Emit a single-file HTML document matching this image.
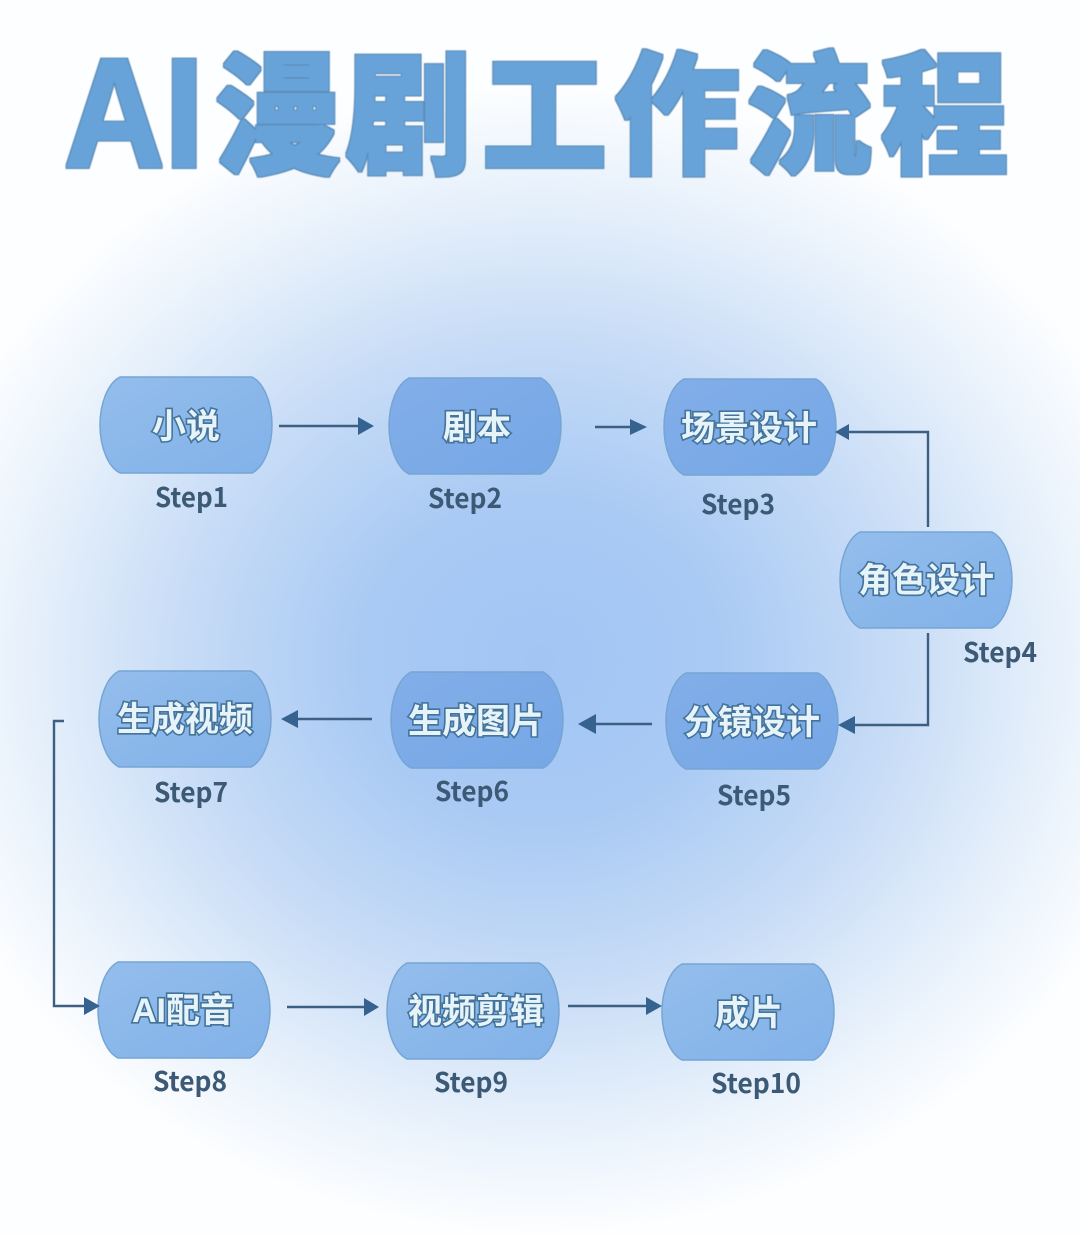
<!DOCTYPE html>
<html lang="zh"><head><meta charset="utf-8"><title>AI漫剧工作流程</title>
<style>
html,body{margin:0;padding:0;background:#fff}
svg{display:block}
.t{font-family:"Liberation Sans","Noto Sans CJK SC",sans-serif;font-weight:900;font-size:130px;fill:#67a3d8}
.a{font-family:"Liberation Sans",sans-serif;font-weight:700}
.n{font-family:"Liberation Sans","Noto Sans CJK SC",sans-serif;font-weight:700;font-size:34px;fill:#e6f4fa;stroke:#44739b;stroke-width:3.2px;paint-order:stroke;text-anchor:middle}
.s{font-family:"Noto Sans CJK SC","Liberation Sans",sans-serif;font-weight:700;font-size:27px;fill:#3c5a75}
.l{fill:none;stroke:#3d5f82;stroke-width:2.4}
.h{fill:#36628f}
.b{stroke:#76a5d3;stroke-width:1.5}
</style></head><body>
<svg width="1080" height="1234" viewBox="0 0 1080 1234" xmlns="http://www.w3.org/2000/svg">
<defs>
<radialGradient id="bg" gradientUnits="userSpaceOnUse" cx="540" cy="660" r="640" gradientTransform="translate(540 660) scale(1 .9) translate(-540 -660)">
<stop offset="0" stop-color="#a2c5f4"/><stop offset=".28" stop-color="#a9caf4"/><stop offset=".55" stop-color="#c6dbf6"/><stop offset=".8" stop-color="#e6f0fb"/><stop offset="1" stop-color="#fdfeff"/>
</radialGradient>
<linearGradient id="n1" x1="0" y1="0" x2="1" y2="1"><stop offset="0" stop-color="#93bdeb"/><stop offset="1" stop-color="#82b2ea"/></linearGradient>
<linearGradient id="n2" x1="0" y1="0" x2="1" y2="1"><stop offset="0" stop-color="#82aee8"/><stop offset="1" stop-color="#76a7e6"/></linearGradient>
<path id="p" d="M20 0H152C164 6 172 26 172 48C172 70 164 90 152 96H20C8 90 0 70 0 48C0 26 8 6 20 0Z"/>
<filter id="thick" filterUnits="userSpaceOnUse" x="0" y="0" width="1080" height="220" color-interpolation-filters="sRGB">
<feMorphology in="SourceAlpha" operator="dilate" radius="1.8" result="o"/>
<feFlood flood-color="#5888b4"/><feComposite in2="o" operator="in" result="edge"/>
<feMorphology in="SourceAlpha" operator="dilate" radius="0.8" result="i"/>
<feFlood flood-color="#67a3d8"/><feComposite in2="i" operator="in" result="fill"/>
<feMerge result="m"><feMergeNode in="edge"/><feMergeNode in="fill"/></feMerge>
<feGaussianBlur in="m" stdDeviation="0.4"/>
</filter>
</defs>
<rect width="1080" height="1234" fill="#fff"/>
<rect width="1080" height="1234" fill="url(#bg)"/>

<!-- title -->
<g class="t" filter="url(#thick)">
<text class="a" transform="translate(64 167) scale(1.07 1.2)" style="font-size:130px">A</text>
<text class="a" transform="translate(164 167) scale(1.12 1.2)" style="font-size:130px">I</text>
<text transform="translate(216 163) scale(.96 1.02)">漫</text>
<text transform="translate(346 163) scale(.96 1.02)">剧</text>
<text transform="translate(482 163) scale(.96 1.02)">工</text>
<text transform="translate(615 163) scale(.96 1.02)">作</text>
<text transform="translate(747 163) scale(.96 1.02)">流</text>
<text transform="translate(881 163) scale(.98 1.02)">程</text>
</g>

<!-- nodes -->
<use href="#p" x="100" y="377" fill="url(#n1)" class="b"/>
<use href="#p" x="389" y="378" fill="url(#n2)" class="b"/>
<use href="#p" x="664" y="379" fill="url(#n2)" class="b"/>
<use href="#p" x="840" y="532" fill="url(#n1)" class="b"/>
<use href="#p" x="666" y="673" fill="url(#n2)" class="b"/>
<use href="#p" x="391" y="672" fill="url(#n2)" class="b"/>
<use href="#p" x="99" y="671" fill="url(#n1)" class="b"/>
<use href="#p" x="98" y="962" fill="url(#n1)" class="b"/>
<use href="#p" x="387" y="963" fill="url(#n1)" class="b"/>
<use href="#p" x="662" y="964" fill="url(#n1)" class="b"/>

<text class="n" x="186" y="438">小说</text>
<text class="n" x="477" y="439">剧本</text>
<text class="n" x="749" y="440">场景设计</text>
<text class="n" x="926" y="592">角色设计</text>
<text class="n" x="752" y="734">分镜设计</text>
<text class="n" x="476" y="733">生成图片</text>
<text class="n" x="185" y="731">生成视频</text>
<text class="n" x="183" y="1022">AI配音</text>
<text class="n" x="476" y="1023">视频剪辑</text>
<text class="n" x="749" y="1025">成片</text>

<!-- step labels -->
<text class="s" x="155" y="507" textLength="73" lengthAdjust="spacingAndGlyphs">Step1</text>
<text class="s" x="428" y="508" textLength="74" lengthAdjust="spacingAndGlyphs">Step2</text>
<text class="s" x="701" y="514" textLength="74" lengthAdjust="spacingAndGlyphs">Step3</text>
<text class="s" x="963" y="662" textLength="74" lengthAdjust="spacingAndGlyphs">Step4</text>
<text class="s" x="717" y="805" textLength="74" lengthAdjust="spacingAndGlyphs">Step5</text>
<text class="s" x="435" y="801" textLength="74" lengthAdjust="spacingAndGlyphs">Step6</text>
<text class="s" x="154" y="802" textLength="74" lengthAdjust="spacingAndGlyphs">Step7</text>
<text class="s" x="153" y="1091" textLength="74" lengthAdjust="spacingAndGlyphs">Step8</text>
<text class="s" x="434" y="1092" textLength="74" lengthAdjust="spacingAndGlyphs">Step9</text>
<text class="s" x="711" y="1093" textLength="90" lengthAdjust="spacingAndGlyphs">Step10</text>

<!-- connectors -->
<path class="l" d="M279 426H360"/><path class="h" d="M358 417L374 426L358 435Z"/>
<path class="l" d="M595 427H632"/><path class="h" d="M630 419L647 427L630 435Z"/>
<path class="l" d="M928 527V432H848"/><path class="h" d="M835 432L849 424V440Z"/>
<path class="l" d="M928 633V725H852"/><path class="h" d="M838 725L855 716V734Z"/>
<path class="l" d="M652 724H592"/><path class="h" d="M578 724L596 714V734Z"/>
<path class="l" d="M372 719H296"/><path class="h" d="M281 719L298 710V728Z"/>
<path class="l" d="M64 721H54V1006H86"/><path class="h" d="M84 997L100 1006L84 1015Z"/>
<path class="l" d="M287 1007H366"/><path class="h" d="M364 998L379 1007L364 1016Z"/>
<path class="l" d="M568 1006H648"/><path class="h" d="M646 997L662 1006L646 1015Z"/>
</svg>
</body></html>
